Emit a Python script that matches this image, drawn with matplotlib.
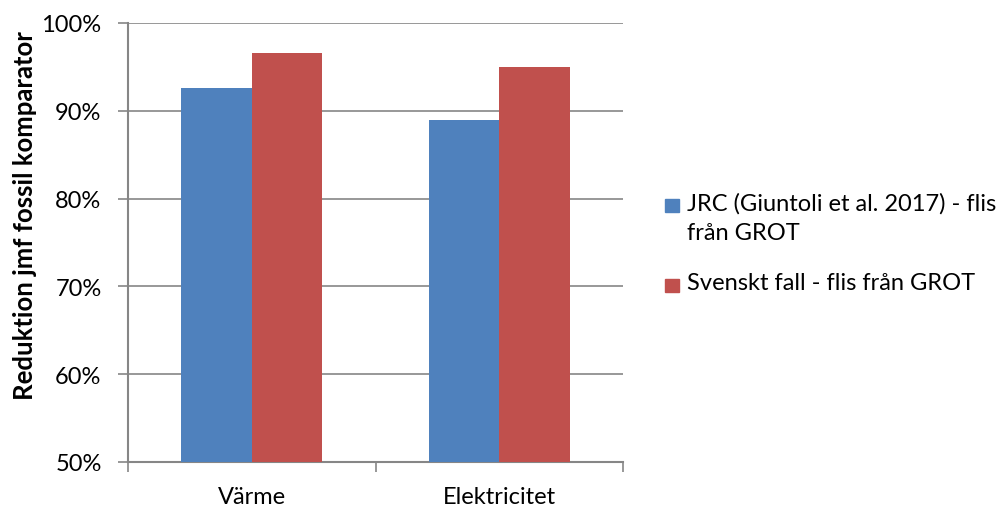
import numpy as np
import matplotlib
matplotlib.use("Agg")
import matplotlib.pyplot as plt
from matplotlib.patches import Rectangle

plt.rcParams['font.family'] = ['Lato', 'DejaVu Sans']

categories = ['Värme', 'Elektricitet']
series_labels = ['JRC (Giuntoli et al. 2017) - flis\nfrån GROT',
                 'Svenskt fall - flis från GROT']
jrc = [0.926, 0.890]
svenskt = [0.966, 0.950]
colors = ['#4F81BD', '#C0504D']
yticks = [0.5, 0.6, 0.7, 0.8, 0.9, 1.0]

fig = plt.figure(figsize=(10.05, 5.06), dpi=100)
ax = fig.add_axes([128 / 1005, 1 - 463 / 506, 495 / 1005, 439 / 506])

x = np.arange(len(categories))
w = 0.2857
ax.bar(x - w / 2, jrc, w, color=colors[0], zorder=3)
ax.bar(x + w / 2, svenskt, w, color=colors[1], zorder=3)

ax.set_xlim(-0.5, len(categories) - 0.5)
ax.set_ylim(0.5, 1.0)
ax.set_yticks(yticks)
ax.set_yticklabels([f'{int(round(v * 100))}%' for v in yticks], fontsize=17)
ax.yaxis.grid(True, color='#868686', linewidth=1.2, zorder=0)

ax.set_xticks([-0.5, 0.5, 1.5])
ax.set_xticklabels([])
ax.set_xticks(x, minor=True)
ax.set_xticklabels(categories, minor=True, fontsize=17)
ax.tick_params(axis='x', which='minor', length=0, pad=17)
ax.tick_params(axis='x', which='major', length=7, width=1.2, color='#868686')
ax.tick_params(axis='y', length=7, width=1.2, color='#868686', pad=12)

for s in ['top', 'right']:
    ax.spines[s].set_visible(False)
for s in ['left', 'bottom']:
    ax.spines[s].set_color('#868686')
    ax.spines[s].set_linewidth(1.5)

ax.set_ylabel('Reduktion jmf fossil komparator', fontsize=18.5,
              fontweight='bold', va='center')
ax.yaxis.set_label_coords(-0.208, 0.563)

# legend drawn by hand so the swatch sits on the first text line
legend_y = [207, 287]
for lab, col, yy in zip(series_labels, colors, legend_y):
    fig.patches.append(Rectangle((665 / 1005, 1 - (yy + 6) / 506),
                                 14 / 1005, 13 / 506, color=col,
                                 transform=fig.transFigure))
    fig.text(687 / 1005, 1 - (yy - 14) / 506, lab, fontsize=17,
             va='top', ha='left', linespacing=1.5)

fig.savefig('out.png', dpi=100)
